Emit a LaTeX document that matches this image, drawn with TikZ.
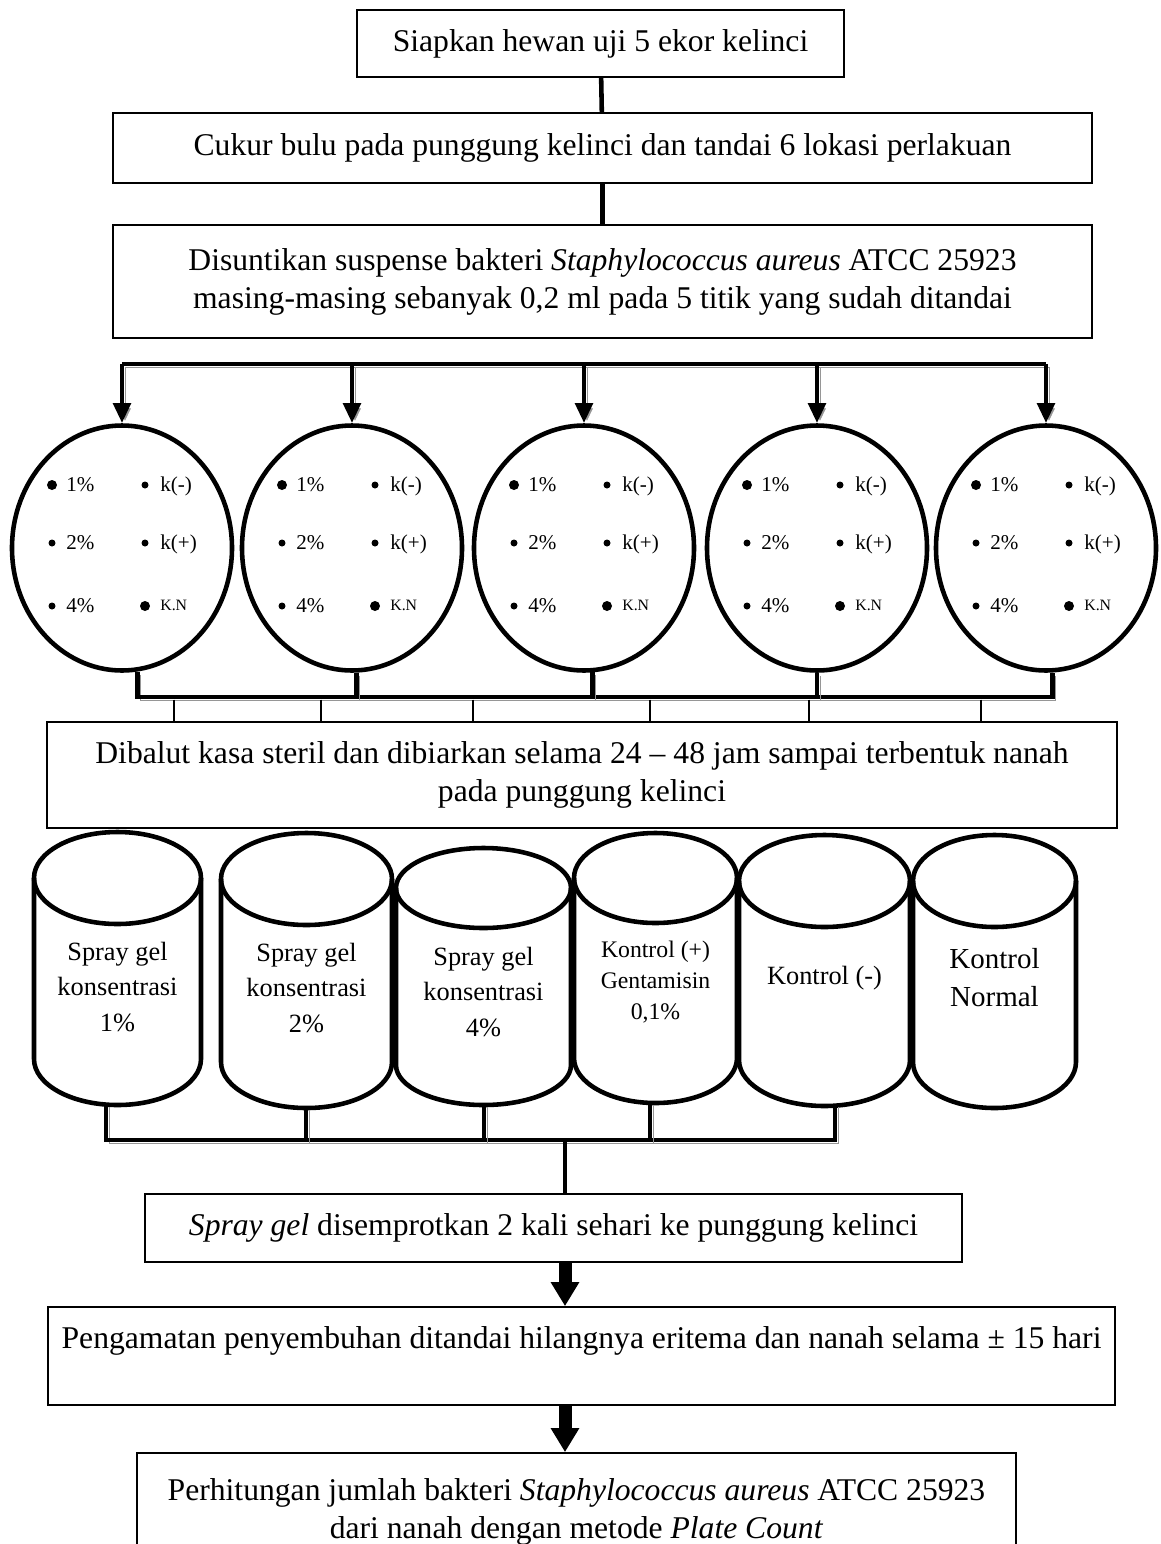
\documentclass[tikz,border=0pt]{standalone}
\usepackage{fontspec}
\setmainfont{Liberation Serif}
\usepackage{tikz}
\usetikzlibrary{arrows.meta,positioning,shapes.geometric,calc}
\definecolor{shade}{RGB}{150,150,150}

\tikzset{
  stepbox/.style={draw,line width=1pt,align=center,inner sep=0pt,
    font=\fontsize{18}{21.6}\selectfont},
  link/.style={line width=2.6pt},
  shadowlink/.style={line width=2.8pt,
    preaction={draw=shade,transform canvas={shift={(0.06,-0.06)}}}},
  thinlink/.style={line width=0.8pt},
  plate/.style={ellipse,draw,line width=2.6pt,minimum width=4.4cm,
    minimum height=4.9cm,inner sep=0pt},
  spot/.style={anchor=base west,inner sep=0pt,font=\fontsize{12}{14}\selectfont},
  tube/.style={line width=2.6pt},
  tubetext/.style={align=center,inner sep=0pt,font=\fontsize{15}{20}\selectfont},
  fatarrow/.style={line width=7.4pt,-{Triangle[width=0.54cm,length=0.48cm]}},
  smallarrow/.style={shadowlink,-{Triangle[width=0.34cm,length=0.4cm]}},
}

\begin{document}
\begin{tikzpicture}[scale=1.0]
  \useasboundingbox (0,0) rectangle (23.22,-30.88);
  % --- preparation steps ---
  \node[stepbox,minimum width=9.74cm,minimum height=1.34cm] (prep) at (12.01,-0.87)
    {Siapkan hewan uji 5 ekor kelinci};
  \node[stepbox,minimum width=19.58cm,minimum height=1.4cm] (shave) at (12.05,-2.96)
    {Cukur bulu pada punggung kelinci dan tandai 6 lokasi perlakuan};
  \node[stepbox,minimum width=19.58cm,minimum height=2.26cm] (inject) at (12.05,-5.63)
    {Disuntikan suspense bakteri \textit{Staphylococcus aureus} ATCC 25923\\
     masing-masing sebanyak 0,2 ml pada 5 titik yang sudah ditandai};
  \draw[link] (prep) -- (shave);
  \draw[link] (shave) -- (inject);

  % --- five rabbits, six marked spots on each back ---
  \coordinate (split) at (0,-7.28);
  \coordinate (join) at (0,-13.94);
  \foreach \i/\x in {1/2.44,2/7.04,3/11.68,4/16.34,5/20.92}{
    \node[plate] (e\i) at (\x,-10.96) {};
    % left column: concentrations
    \fill ($(e\i)+(-1.40,1.26)$) circle (0.1);
    \node[spot] (e\i-a) at ($(e\i)+(-1.12,1.13)$) {1\%};
    \fill ($(e\i)+(-1.40,0.10)$) circle (0.07);
    \node[spot] (e\i-b) at ($(e\i)+(-1.12,-0.03)$) {2\%};
    \fill ($(e\i)+(-1.40,-1.16)$) circle (0.07);
    \node[spot] (e\i-c) at ($(e\i)+(-1.12,-1.29)$) {4\%};
    % right column: controls
    \fill ($(e\i)+(0.46,1.26)$) circle (0.07);
    \node[spot] (e\i-d) at ($(e\i)+(0.76,1.13)$) {k(-)};
    \fill ($(e\i)+(0.46,0.10)$) circle (0.07);
    \node[spot] (e\i-e) at ($(e\i)+(0.76,-0.03)$) {k(+)};
    \fill ($(e\i)+(0.46,-1.16)$) circle (0.1);
    \node[spot,font=\fontsize{9}{10}\selectfont] (e\i-f) at ($(e\i)+(0.76,-1.25)$) {K.N};
  }
  \draw[shadowlink] (e1.north |- split) -- (e5.north |- split);
  \foreach \i in {1,...,5}
    \draw[smallarrow] (e\i.north |- split) -- (e\i.north);

  % --- collect and bandage ---
  \node[stepbox,minimum width=21.4cm,minimum height=2.12cm] (dbox) at (11.64,-15.5)
    {Dibalut kasa steril dan dibiarkan selama 24 – 48 jam sampai terbentuk nanah\\
     pada punggung kelinci};
  \draw[shadowlink] (e1.-83) -- (e1.-83 |- join) -- (e5.-87 |- join) -- (e5.-87);
  \foreach \i/\a in {2/-88,3/-86,4/-90}
    \draw[shadowlink] (e\i.\a) -- (e\i.\a |- join);
  \foreach \x in {3.48,6.42,9.46,13.00,16.18,19.62}
    \draw[thinlink] (\x,-13.99) -- (\x,0 |- dbox.north);

  % --- six treatment groups ---
  \foreach \n/\l/\r/\t/\b/\h in {1/0.68/4.02/-16.64/-22.10/0.92,
      2/4.42/7.84/-16.66/-22.16/0.92, 3/7.92/11.42/-16.96/-22.10/0.80,
      4/11.48/14.74/-16.66/-22.06/0.90, 5/14.78/18.20/-16.70/-22.12/0.92,
      6/18.26/21.52/-16.70/-22.16/0.92}{
    \pgfmathsetmacro\cx{(\l+\r)/2}
    \pgfmathsetmacro\rx{(\r-\l)/2}
    \draw[tube] (\cx,{\t-\h}) ellipse [x radius=\rx,y radius=\h];
    \draw[tube] (\l,{\t-\h}) -- (\l,{\b+\h})
      arc[start angle=180,end angle=360,x radius=\rx,y radius=\h] -- (\r,{\t-\h});
  }
  \node[tubetext] (c1) at (2.35,-19.74) {Spray gel\\konsentrasi\\1\%};
  \node[tubetext] (c2) at (6.13,-19.76) {Spray gel\\konsentrasi\\2\%};
  \node[tubetext] (c3) at (9.67,-19.84) {Spray gel\\konsentrasi\\4\%};
  \node[tubetext,font=\fontsize{13.5}{17.6}\selectfont] (c4) at (13.11,-19.64)
    {Kontrol (+)\\Gentamisin\\0,1\%};
  \node[tubetext] (c5) at (16.49,-19.56) {Kontrol (-)};
  \node[tubetext,font=\fontsize{16.5}{22}\selectfont] (c6) at (19.89,-19.55)
    {Kontrol\\Normal};
  % bottoms of the first five tubes
  \coordinate (cb1) at (2.12,-22.08);
  \coordinate (cb2) at (6.12,-22.14);
  \coordinate (cb3) at (9.68,-22.08);
  \coordinate (cb4) at (13.00,-22.04);
  \coordinate (cb5) at (16.70,-22.08);
  \coordinate (merge) at (11.30,-22.8);
  \draw[shadowlink] (cb1) -- (cb1 |- merge) -- (cb5 |- merge) -- (cb5);
  \foreach \k in {2,3,4}
    \draw[shadowlink] (cb\k) -- (cb\k |- merge);

  % --- treatment and observation ---
  \node[stepbox,minimum width=16.34cm,minimum height=1.36cm] (ebox) at (11.07,-24.56)
    {\textit{Spray gel} disemprotkan 2 kali sehari ke punggung kelinci};
  \node[stepbox,minimum width=21.34cm,minimum height=1.96cm] (fbox) at (11.63,-27.12)
    {Pengamatan penyembuhan ditandai hilangnya eritema dan nanah selama ± 15 hari\\ \mbox{}};
  \node[stepbox,minimum width=17.58cm,minimum height=2.34cm] (gbox) at (11.53,-30.23)
    {Perhitungan jumlah bakteri \textit{Staphylococcus aureus} ATCC 25923\\
     dari nanah dengan metode \textit{Plate Count}};
  \draw[link] (merge) -- (merge |- ebox.north);
  \draw[fatarrow] (merge |- ebox.south) -- (merge |- fbox.north);
  \draw[fatarrow] (merge |- fbox.south) -- (merge |- gbox.north);
\end{tikzpicture}
\end{document}
